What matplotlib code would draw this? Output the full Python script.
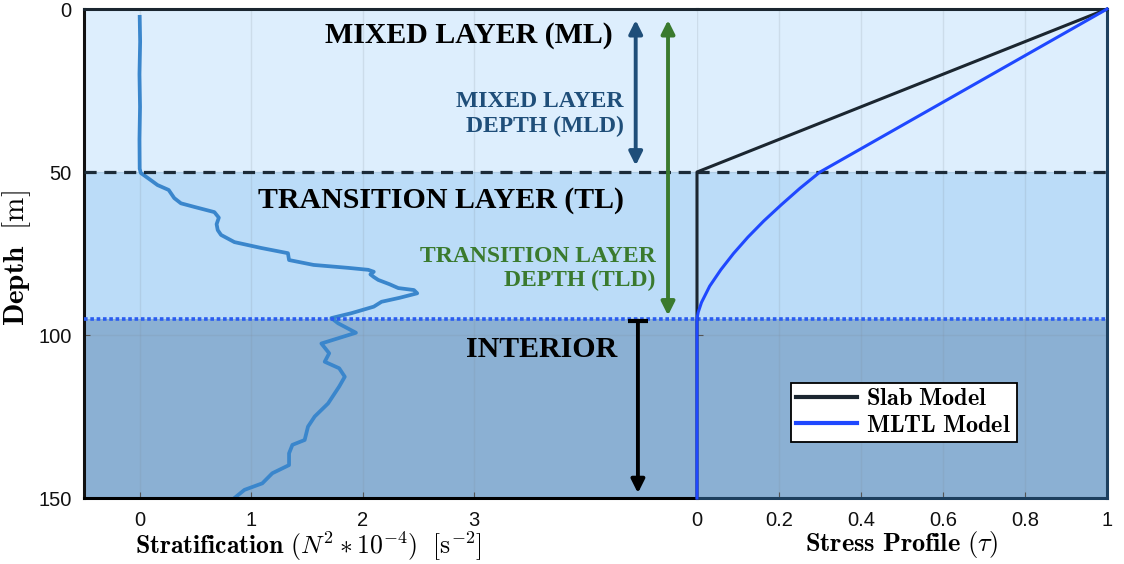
import numpy as np
import matplotlib
matplotlib.use("Agg")
import matplotlib.pyplot as plt

plt.rcParams['mathtext.fontset'] = 'cm'
plt.rcParams['font.family'] = ['Liberation Sans', 'DejaVu Sans']
plt.rcParams['axes.unicode_minus'] = False

# stratification profile (N^2 * 1e-4, depth in m)
strat_depth = [2.4, 10, 20, 30, 40, 49, 50.3, 52.5, 54, 55.5, 58,
               59.6, 60.7, 62.3, 64, 66, 67.8, 69.3, 71.5, 73.3, 74.9, 77, 78.5, 79.4, 80.0,
               80.6, 81.4, 82.2, 83.1, 84.4, 85.6, 86.2, 87.2, 88.6, 89.8, 91.3, 93.3, 94.8,
               96.4, 99.3, 102.6, 105.6, 108.2, 110.2, 112.8, 115.8, 121, 125, 128.1, 132.2,
               133.7, 136.3, 139.9, 142.4, 145.5, 147.5, 150]
strat_vals = [0.0, 0.004, -0.002, 0.003, -0.002, 0.0, 0.01,
              0.10, 0.16, 0.26, 0.31, 0.37, 0.49, 0.67, 0.71, 0.69, 0.70, 0.73, 0.85, 1.09,
              1.33, 1.34, 1.56, 1.87, 2.05, 2.10, 2.07, 2.10, 2.14, 2.24, 2.32, 2.46, 2.49,
              2.33, 2.17, 2.10, 1.90, 1.72, 1.78, 1.94, 1.63, 1.70, 1.66, 1.79, 1.84, 1.79,
              1.69, 1.57, 1.51, 1.48, 1.37, 1.34, 1.34, 1.19, 1.10, 0.94, 0.85]

# stress profiles
slab_depth = [0, 50, 150]
slab_tau = [1.0, 0.0, 0.0]
mltl_depth = [0, 50, 55, 60, 65, 70, 75, 80, 85, 90, 93, 95, 150]
mltl_tau = [1.0, 0.30, 0.251, 0.206, 0.163, 0.124, 0.089, 0.058, 0.031, 0.011, 0.003, 0.0, 0.0]

mld = 50
tld = 95
max_depth = 150

strat_ticks = [0, 1, 2, 3]
stress_ticks = [0, 0.2, 0.4, 0.6, 0.8, 1]
stress_ticklabels = ['0', '0.2', '0.4', '0.6', '0.8', '1']
depth_ticks = [0, 50, 100, 150]

c_ml = '#ddeefd'
c_tl = '#bbdcf8'
c_int = '#8bb0d3'
c_mld = '#1f4e79'
c_tld = '#3a7a2e'

fig = plt.figure(figsize=(11.24, 5.64), dpi=100)
ax1 = fig.add_axes([0.0747, 0.117, 0.5454, 0.867])
ax2 = fig.add_axes([0.6201, 0.117, 0.3648, 0.867])

for ax in (ax1, ax2):
    ax.axhspan(0, mld, color=c_ml, zorder=0, lw=0)
    ax.axhspan(mld, tld, color=c_tl, zorder=0, lw=0)
    ax.axhspan(tld, max_depth, color=c_int, zorder=0, lw=0)
    ax.set_ylim(max_depth, 0)
    ax.set_yticks(depth_ticks)
    ax.grid(True, color='#7f8c99', alpha=0.18, lw=1)
    ax.set_axisbelow(True)
    ax.axhline(mld, color='#1c2b38', lw=2.3, dashes=(3.8, 2.4), zorder=3)
    ax.axhline(tld, color='#2a5cf0', lw=2.6, ls=(0, (1, 0.75)), zorder=3)
    ax.tick_params(direction='in', length=4, labelsize=14.5, width=0.8, colors='#555555',
                   labelcolor='#111111', pad=9)

# left panel
ax1.plot(strat_vals, strat_depth, color='#3a86cc', lw=2.7, zorder=2)
ax1.set_xlim(-0.5, 5)
ax1.set_xticks(strat_ticks)
ax1.spines['right'].set_visible(False)
ax1.spines['left'].set_linewidth(2.2)
ax1.spines['left'].set_color('#111111')
ax1.spines['top'].set_linewidth(2.2)
ax1.spines['top'].set_color('#1a2630')
ax1.spines['bottom'].set_linewidth(2.2)
ax1.spines['bottom'].set_color('#000000')
ax1.set_xlabel(r'$\mathbf{Stratification}\ (N^2 * 10^{-4})\ \ [\mathrm{s}^{-2}]$', fontsize=18.5,
               labelpad=0)
ax1.xaxis.set_label_coords(0.366, -0.064)
ax1.set_ylabel(r'$\mathbf{Depth}\ \ [\mathrm{m}]$', fontsize=21)
ax1.yaxis.set_label_coords(-0.083, 0.49)

ann = dict(family='Liberation Serif', fontweight='bold')
ax1.text(2.95, 8, 'MIXED LAYER (ML)', fontsize=21.5, ha='center', va='center', **ann)
ax1.text(2.7, 58.6, 'TRANSITION LAYER (TL)', fontsize=21.5, ha='center', va='center', **ann)
ax1.text(3.61, 104.3, 'INTERIOR', fontsize=21.5, ha='center', va='center', **ann)
ax1.text(4.34, 32.3, 'MIXED LAYER\nDEPTH (MLD)', fontsize=17, ha='right', va='center',
         color=c_mld, linespacing=1.22, **ann)
ax1.text(4.63, 79.6, 'TRANSITION LAYER\nDEPTH (TLD)', fontsize=17, ha='right', va='center',
         color=c_tld, linespacing=1.22, **ann)

x_mld_arrow = 4.45
x_tld_arrow = 4.74
x_int_arrow = 4.47
ax1.annotate('', xy=(x_mld_arrow, 48), xytext=(x_mld_arrow, 3.4),
             arrowprops=dict(arrowstyle='<|-|>', color=c_mld, lw=2.8, mutation_scale=20,
                             shrinkA=0, shrinkB=0))
ax1.annotate('', xy=(x_tld_arrow, 94), xytext=(x_tld_arrow, 3.4),
             arrowprops=dict(arrowstyle='<|-|>', color=c_tld, lw=2.8, mutation_scale=20,
                             shrinkA=0, shrinkB=0))
ax1.annotate('', xy=(x_int_arrow, 148.5), xytext=(x_int_arrow, 95.6),
             arrowprops=dict(arrowstyle='-|>', color='black', lw=2.8, mutation_scale=20,
                             shrinkA=0, shrinkB=0))
ax1.plot([x_int_arrow - 0.09, x_int_arrow + 0.09], [95.8, 95.8], color='black', lw=3,
         solid_capstyle='butt', zorder=4)

# right panel
ax2.plot(slab_tau, slab_depth, color='#1b2630', lw=2.2, label=r'$\mathbf{Slab\ Model}$',
         zorder=4, clip_on=False)
ax2.plot(mltl_tau, mltl_depth, color='#1f48ff', lw=2.2, label=r'$\mathbf{MLTL\ Model}$',
         zorder=5, clip_on=False)
ax2.set_xlim(0, 1)
ax2.set_xticks(stress_ticks)
ax2.set_xticklabels(stress_ticklabels)
ax2.tick_params(axis='y', labelleft=False)
ax2.spines['left'].set_visible(False)
ax2.spines['right'].set_linewidth(2.2)
ax2.spines['right'].set_color('#1d3f5e')
ax2.spines['top'].set_linewidth(2.2)
ax2.spines['top'].set_color('#1a2630')
ax2.spines['bottom'].set_linewidth(2.2)
ax2.spines['bottom'].set_color('#1d3f5e')
ax2.set_xlabel(r'$\mathbf{Stress\ Profile}\ (\tau)$', fontsize=19, labelpad=0)
ax2.xaxis.set_label_coords(0.5, -0.064)
leg = ax2.legend(loc='center', bbox_to_anchor=(0.504, 0.175), fontsize=17.5, frameon=True,
                 fancybox=False, edgecolor='black', framealpha=1, handlelength=2.5,
                 borderpad=0.22, labelspacing=0.18, handletextpad=0.4)
leg.get_frame().set_linewidth(1.3)
for h in leg.get_lines():
    h.set_linewidth(3)

fig.savefig('out.png', dpi=100)
